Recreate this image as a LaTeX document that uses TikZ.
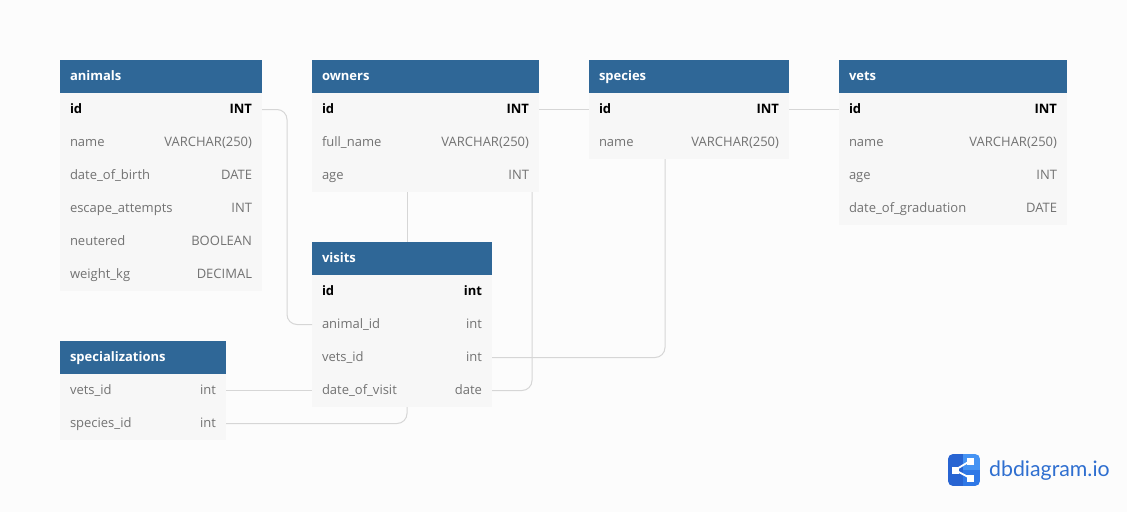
\documentclass[tikz,border=0pt]{standalone}
\usepackage{fontspec}
\usepackage{xcolor}
\setmainfont{Open Sans}
\newfontfamily\logofont{Lato}
\usetikzlibrary{positioning, calc}
\definecolor{headblue}{HTML}{2F6797}
\definecolor{rowgray}{HTML}{F7F7F7}
\definecolor{textgray}{HTML}{727272}
\definecolor{linegray}{HTML}{D6D6D6}
\definecolor{paper}{HTML}{FCFCFC}
\definecolor{logodark}{HTML}{2864D2}
\definecolor{logolight}{HTML}{4593F3}
\definecolor{logomid}{HTML}{2F78E6}
\definecolor{logotext}{HTML}{2F6FD0}
\tikzset{
  dbhead/.style={fill=headblue, text=white, font=\fontsize{13}{15}\selectfont\bfseries, anchor=north west,
    minimum height=33pt, inner xsep=10pt, inner ysep=0pt, outer sep=0pt, text height=10pt, text depth=3pt, align=left},
  dbrow/.style={fill=rowgray, text=textgray, font=\fontsize{13}{15}\selectfont,
    minimum height=33pt, inner xsep=10pt, inner ysep=0pt, outer sep=0pt, text height=10pt, text depth=3pt},
  rel/.style={draw=linegray, line width=1pt, rounded corners=10pt},
  logobox/.style={fill=white, minimum size=7pt, inner sep=0pt}
}
\newcommand{\pk}[1]{\textcolor{black}{\textbf{#1}}}
% rows of one table, stacked under its head node
\newcommand{\dbrows}[3]{
  \foreach \key/\fld/\typ [remember=\key as \prev (initially head)] in {#3} {
    \node[dbrow, text width=#2pt-20pt, below=0pt of #1-\prev] (#1-\key) {\fld\hfill\typ};
  }
}
\begin{document}
\begin{tikzpicture}[x=1pt, y=-1pt]
  \useasboundingbox[fill=paper] (0,0) rectangle (1127,512);

  % tables
  \node[dbhead, text width=182pt] (animals-head) at (60,60) {animals};
  \dbrows{animals}{202}{id/\pk{id}/\pk{INT}, name/name/VARCHAR(250), birth/date\_of\_birth/DATE,
    escape/escape\_attempts/INT, neutered/neutered/BOOLEAN, weight/weight\_kg/DECIMAL}

  \node[dbhead, text width=207pt] (owners-head) at (312,60) {owners};
  \dbrows{owners}{227}{id/\pk{id}/\pk{INT}, name/full\_name/VARCHAR(250), age/age/INT}

  \node[dbhead, text width=180pt] (species-head) at (589,60) {species};
  \dbrows{species}{200}{id/\pk{id}/\pk{INT}, name/name/VARCHAR(250)}

  \node[dbhead, text width=208pt] (vets-head) at (839,60) {vets};
  \dbrows{vets}{228}{id/\pk{id}/\pk{INT}, name/name/VARCHAR(250), age/age/INT, grad/date\_of\_graduation/DATE}

  \node[dbhead, text width=160pt] (visits-head) at (312,242) {visits};
  \dbrows{visits}{180}{id/\pk{id}/\pk{int}, animal/animal\_id/int, vets/vets\_id/int, date/date\_of\_visit/date}

  \node[dbhead, text width=146pt] (spec-head) at (60,341) {specializations};
  \dbrows{spec}{166}{vets/vets\_id/int, species/species\_id/int}

  % relations
  \draw[rel] (animals-id.east) -- ++(25,0) |- (visits-animal.west);
  \draw[rel] (owners-id.east) -- (species-id.west);
  \draw[rel] (species-id.east) -- (vets-id.west);
  \coordinate (owners-foot) at ($(owners-age.south west)+(95,0)$);
  \coordinate (owners-back) at ($(owners-age.south east)+(-7,0)$);
  \coordinate (species-foot) at ($(species-name.south west)+(76,0)$);
  \coordinate (visits-foot) at ($(visits-date.south west)+(95,0)$);
  \draw[rel] (owners-foot) -- (owners-foot |- visits-head.north);
  \draw[rel] (visits-vets.east) -| (species-foot);
  \draw[rel] (visits-date.east) -| (owners-back);
  \draw[rel] (spec-vets.east) -- (visits-date.west);
  \draw[rel] (spec-species.east) -| (visits-foot);

  % logo
  \begin{scope}
    \clip[rounded corners=5pt] (948,454) rectangle (980,486);
    \fill[logodark] (948,454) rectangle (963,486);
    \fill[logolight] (963,454) rectangle (980,470);
    \fill[logomid] (963,470) rectangle (980,486);
  \end{scope}
  \node[logobox] (logo-a) at (955,470) {};
  \node[logobox] (logo-b) at (970,461) {};
  \node[logobox] (logo-c) at (970,478) {};
  \draw[white, line width=1.8pt] (logo-a.center) -- (logo-b.center);
  \draw[white, line width=1.8pt] (logo-a.center) -- (logo-c.center);
  \node[anchor=west, inner sep=0pt, text=logotext, font=\logofont\fontsize{21.3}{24}\selectfont] (logo-name) at (989,471) {dbdiagram.io};
\end{tikzpicture}
\end{document}
